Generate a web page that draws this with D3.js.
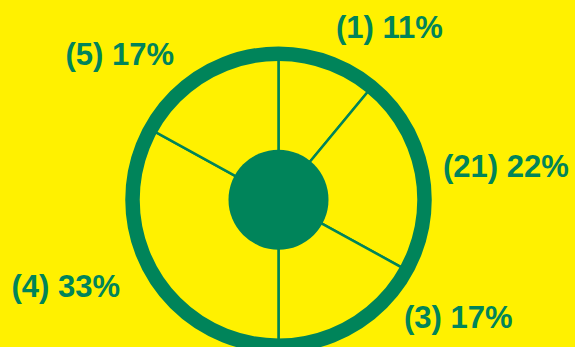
<!DOCTYPE html>
<html>
<head>
<meta charset="utf-8">
<script src="https://cdn.jsdelivr.net/npm/d3@7"></script>
<style>
  html, body { margin: 0; padding: 0; background: #FFF100; }
  svg { display: block; }
</style>
</head>
<body>
<svg id="chart" width="575" height="347"></svg>
<script>
// ---- data ----
const categories = ["(1)", "(21)", "(3)", "(4)", "(5)"];
const values = [11, 22, 17, 33, 17];
const percentLabels = ["11%", "22%", "17%", "33%", "17%"];

// ---- layout (label offsets from the wheel centre, and anchors) ----
const labelOffsets = [[57.5, -161.5], [164.5, -23], [125.5, 128.5], [-158.5, 97.8], [-104.5, -134.7]];
const labelAnchors = ["start", "start", "start", "end", "end"];

const W = 575, H = 347;
const cx = 278.5, cy = 199.7;
const ringR = 146, ringWidth = 14.5, hubR = 50;
const green = "#00845A", yellow = "#FFF100";

const svg = d3.select("#chart");
svg.append("rect").attr("width", W).attr("height", H).attr("fill", yellow);

const g = svg.append("g").attr("transform", `translate(${cx},${cy})`);

const pie = d3.pie().sort(null).value(d => d).startAngle(0).endAngle(2 * Math.PI);
const arcs = pie(values);
const arc = d3.arc().innerRadius(hubR - 2).outerRadius(ringR);

g.selectAll("path.slice")
  .data(arcs)
  .join("path")
  .attr("class", "slice")
  .attr("d", arc)
  .attr("fill", yellow)
  .attr("stroke", green)
  .attr("stroke-width", 2.5);

// outer ring
g.append("circle")
  .attr("r", ringR)
  .attr("fill", "none")
  .attr("stroke", green)
  .attr("stroke-width", ringWidth);

// hub
g.append("circle")
  .attr("r", hubR)
  .attr("fill", green);

// labels
g.selectAll("text.lbl")
  .data(arcs)
  .join("text")
  .attr("class", "lbl")
  .attr("x", (d, i) => labelOffsets[i][0])
  .attr("y", (d, i) => labelOffsets[i][1])
  .attr("text-anchor", (d, i) => labelAnchors[i])
  .attr("font-family", "'Liberation Sans', Arial, sans-serif")
  .attr("font-weight", "bold")
  .attr("font-size", 31)
  .attr("fill", green)
  .text((d, i) => `${categories[i]} ${percentLabels[i]}`);
</script>
</body>
</html>
